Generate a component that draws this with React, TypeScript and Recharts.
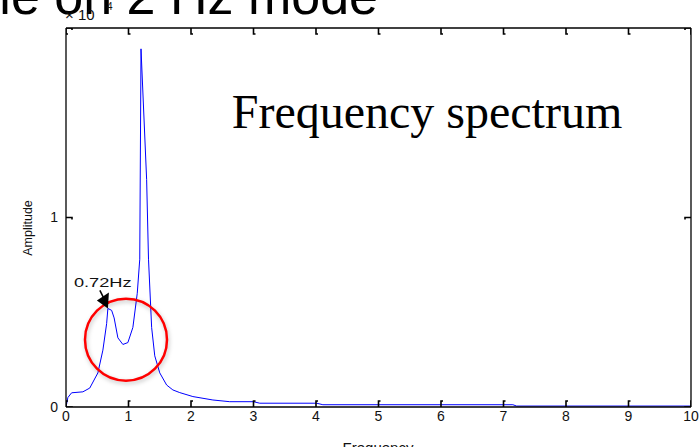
import React from 'react';
import { ComposedChart, Line, Scatter, XAxis, YAxis, ReferenceDot } from 'recharts';

// frequency (Hz) and amplitude (x 10^4)
const freq = [0, 0.03, 0.09, 0.27, 0.38, 0.51, 0.59, 0.65, 0.67, 0.73, 0.77, 0.83, 0.91, 0.99, 1.07, 1.14, 1.18, 1.2, 1.29, 1.32, 1.37, 1.42, 1.5, 1.61, 1.71, 1.82, 2.03, 2.35, 2.62, 3.0, 3.1, 4.01, 4.11, 7.15, 7.21, 10];
const amp = [0, 0.05, 0.075, 0.08, 0.1, 0.18, 0.3, 0.44, 0.52, 0.51, 0.47, 0.365, 0.33, 0.34, 0.42, 0.6, 0.78, 1.89, 1.2, 0.78, 0.42, 0.27, 0.18, 0.116, 0.09, 0.076, 0.055, 0.037, 0.028, 0.028, 0.02, 0.02, 0.012, 0.012, 0.005, 0.005];

const xTicks = [0, 1, 2, 3, 4, 5, 6, 7, 8, 9, 10];
const yTicks = [0, 1, 2];
const yLabelTicks = [0, 1];

const peakMark = { f: 0.67, a: 0.52, label: '0.72Hz' };
const circleMark = { f: 0.96, a: 0.355 };

const data = freq.map((f, i) => ({ f, amp: amp[i] }));

// tick mark anchors on the four sides of the box
const bottomMarks = xTicks.map((t) => ({ f: t, amp: 0 }));
const topMarks = xTicks.map((t) => ({ f: t, amp: 2 }));
const leftMarks = yTicks.map((t) => ({ f: 0, amp: t }));
const rightMarks = yTicks.map((t) => ({ f: 10, amp: t }));

const FONT = 'Liberation Sans, Arial, sans-serif';
const TL = 6;

// MATLAB-like inward tick with a small foot along the axis
const tickMark = (dx: number, dy: number) => (props: any) => {
  const { cx, cy } = props;
  if (cx == null || cy == null) return <g />;
  const x2 = cx + dx * TL;
  const y2 = cy + dy * TL;
  return (
    <path
      d={`M${cx},${cy} L${x2},${y2} L${x2 + Math.abs(dy) * 2},${y2 + Math.abs(dx) * 2}`}
      fill="none"
      stroke="#000"
      strokeWidth={1.6}
    />
  );
};

const ArrowLabel = (props: any) => {
  const { cx, cy } = props;
  if (cx == null || cy == null) return null;
  return (
    <g>
      <line x1={cx - 8} y1={cy - 18} x2={cx - 4} y2={cy - 10} stroke="#000" strokeWidth={1.5} />
      <polygon points={`${cx},${cy} ${cx + 1},${cy - 16} ${cx - 11},${cy - 8}`} fill="#000" />
      <text
        transform={`translate(${cx - 34}, ${cy - 21}) scale(1.35, 1)`}
        style={{ fontFamily: FONT, fontSize: 13.5, fill: '#111' }}
      >
        {peakMark.label}
      </text>
    </g>
  );
};

const Ring = (props: any) => {
  const { cx, cy } = props;
  if (cx == null || cy == null) return null;
  return (
    <circle
      cx={cx}
      cy={cy}
      r={41}
      fill="none"
      stroke="#ff0000"
      strokeWidth={2.5}
      style={{ filter: 'drop-shadow(1px 2px 2px rgba(0,0,0,0.25))' }}
    />
  );
};

const tickStyle = { fontFamily: FONT, fontSize: 14, fill: '#111' };

export default function App() {
  return (
    <div style={{ position: 'absolute', left: 0, top: 0, width: 700, height: 447, overflow: 'hidden', background: '#fff' }}>
      <ComposedChart width={700} height={447} data={data} margin={{ top: 27, right: 8, bottom: 10, left: 36 }}>
        <XAxis
          xAxisId="b"
          dataKey="f"
          type="number"
          domain={[0, 10]}
          ticks={xTicks}
          height={30}
          tickLine={false}
          tickSize={0}
          tickMargin={4}
          stroke="#000"
          strokeWidth={1.3}
          tick={tickStyle}
          allowDataOverflow
        />
        <XAxis
          xAxisId="t"
          orientation="top"
          dataKey="f"
          type="number"
          domain={[0, 10]}
          ticks={xTicks}
          height={1}
          tickLine={false}
          tick={false}
          stroke="#000"
          strokeWidth={1.3}
        />
        <YAxis
          yAxisId="l"
          type="number"
          domain={[0, 2]}
          ticks={yLabelTicks}
          width={30}
          tickLine={false}
          tickSize={0}
          tickMargin={8}
          stroke="#000"
          strokeWidth={1.3}
          tick={tickStyle}
          allowDataOverflow
        />
        <YAxis
          yAxisId="r"
          orientation="right"
          type="number"
          domain={[0, 2]}
          ticks={yTicks}
          width={1}
          tickLine={false}
          tick={false}
          stroke="#000"
          strokeWidth={1.3}
        />
        <Scatter xAxisId="b" yAxisId="l" data={bottomMarks} dataKey="amp" shape={tickMark(0, -1)} isAnimationActive={false} />
        <Scatter xAxisId="b" yAxisId="l" data={topMarks} dataKey="amp" shape={tickMark(0, 1)} isAnimationActive={false} />
        <Scatter xAxisId="b" yAxisId="l" data={leftMarks} dataKey="amp" shape={tickMark(1, 0)} isAnimationActive={false} />
        <Scatter xAxisId="b" yAxisId="l" data={rightMarks} dataKey="amp" shape={tickMark(-1, 0)} isAnimationActive={false} />
        <Line
          xAxisId="b"
          yAxisId="l"
          type="linear"
          dataKey="amp"
          stroke="#0000ff"
          strokeWidth={1}
          dot={false}
          isAnimationActive={false}
        />
        <ReferenceDot xAxisId="b" yAxisId="l" x={circleMark.f} y={circleMark.a} shape={Ring} />
        <ReferenceDot xAxisId="b" yAxisId="l" x={peakMark.f} y={peakMark.a} shape={ArrowLabel} />
      </ComposedChart>
      <svg width={700} height={447} style={{ position: 'absolute', left: 0, top: 0, pointerEvents: 'none' }}>
        <text x={378} y={14} textAnchor="end" style={{ fontFamily: FONT, fontSize: 52, fill: '#000' }}>
          Example on 2 Hz mode
        </text>
        <text x={65} y={20} style={{ fontFamily: FONT, fontSize: 15, fill: '#111' }}>
          × 10
        </text>
        <text x={107} y={10} style={{ fontFamily: FONT, fontSize: 10, fill: '#111' }}>
          4
        </text>
        <text x={427} y={128} textAnchor="middle" style={{ fontFamily: 'Liberation Serif, Times New Roman, serif', fontSize: 48, fill: '#000' }}>
          Frequency spectrum
        </text>
        <text
          x={32}
          y={228}
          textAnchor="middle"
          transform="rotate(-90 32 228)"
          style={{ fontFamily: FONT, fontSize: 12.5, fill: '#111' }}
        >
          Amplitude
        </text>
        <text x={378} y={453} textAnchor="middle" style={{ fontFamily: FONT, fontSize: 15, fill: '#111' }}>
          Frequency
        </text>
      </svg>
    </div>
  );
}
